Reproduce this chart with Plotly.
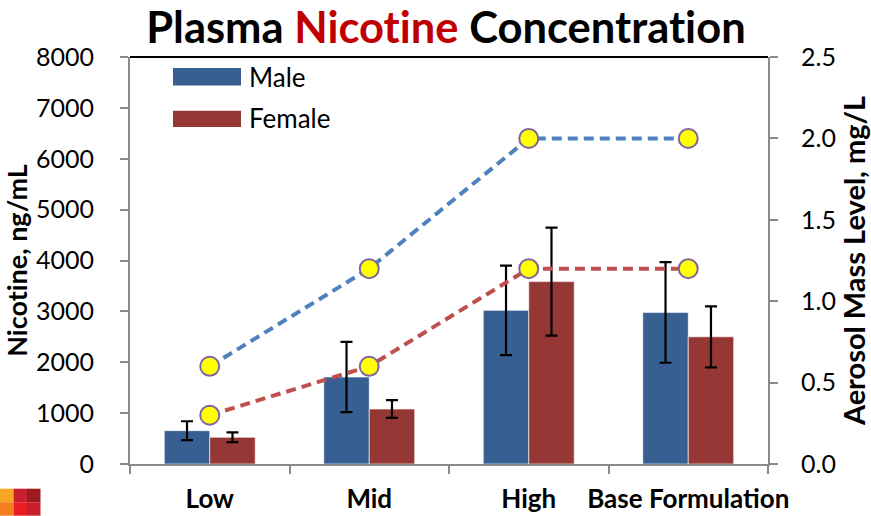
import plotly.graph_objects as go

# Exposure groups
categories = ["Low", "Mid", "High", "Base Formulation"]

# Plasma nicotine (ng/mL), mean and error
male_nicotine = [655, 1710, 3020, 2980]
male_err = [185, 690, 880, 990]
female_nicotine = [525, 1080, 3585, 2500]
female_err = [95, 175, 1060, 600]

# Aerosol mass level (mg/L)
aerosol_male = [0.6, 1.2, 2.0, 2.0]
aerosol_female = [0.3, 0.6, 1.2, 1.2]

left_ticks = [0, 1000, 2000, 3000, 4000, 5000, 6000, 7000, 8000]
right_ticks = [0.0, 0.5, 1.0, 1.5, 2.0, 2.5]

FONT = "Lato"
MALE_COLOR = "#375F91"
FEMALE_COLOR = "#953735"
AXIS_GRAY = "#8A8A8A"
NOLIG = "font-variant-ligatures:none"

fig = go.Figure()

err_style = dict(type="data", visible=True, color="black", thickness=2.2, width=6)

fig.add_trace(go.Bar(
    x=categories, y=male_nicotine, name="Male",
    marker=dict(color=MALE_COLOR, line=dict(color="rgba(255,255,255,0.6)", width=1)),
    error_y=dict(array=male_err, **err_style),
    showlegend=False,
))
fig.add_trace(go.Bar(
    x=categories, y=female_nicotine, name="Female",
    marker=dict(color=FEMALE_COLOR, line=dict(color="rgba(255,255,255,0.6)", width=1)),
    error_y=dict(array=female_err, **err_style),
    showlegend=False,
))

marker_style = dict(size=19, color="#FFFF00", line=dict(color="#8064A2", width=2))
fig.add_trace(go.Scatter(
    x=categories, y=aerosol_male, yaxis="y2", mode="lines+markers",
    line=dict(color="#4F81BD", width=4, dash="10px,6px"),
    marker=marker_style, showlegend=False, name="Aerosol (male)",
))
fig.add_trace(go.Scatter(
    x=categories, y=aerosol_female, yaxis="y2", mode="lines+markers",
    line=dict(color="#C0504D", width=4, dash="10px,6px"),
    marker=marker_style, showlegend=False, name="Aerosol (female)",
))

# Legend drawn as wide swatches inside the plot area
legend_items = [("Male", MALE_COLOR, 0.930, 0.973, 0.952),
                ("Female", FEMALE_COLOR, 0.828, 0.868, 0.849)]
shapes = []
annotations = []
for label, color, y0, y1, ty in legend_items:
    shapes.append(dict(type="rect", xref="paper", yref="paper",
                       x0=0.0674, x1=0.174, y0=y0, y1=y1,
                       fillcolor=color, line=dict(width=0)))
    annotations.append(dict(text=label, xref="paper", yref="paper",
                            x=0.184, y=ty, xanchor="left", yanchor="middle",
                            showarrow=False, font=dict(family=FONT, size=26, color="black")))

# Dark frame line along the top of the plot area
shapes.append(dict(type="line", xref="paper", yref="paper", x0=0, x1=1, y0=1, y1=1,
                   line=dict(color="black", width=2)))

# Corner logo tiles
logo_colors = [["#F5A623", "#C8202F", "#9B1B1F"], ["#F47F20", "#EC1C24", "#C8202F"]]
px_w, px_h = 638.0, 407.0
for r, row in enumerate(logo_colors):
    for c, col in enumerate(row):
        x0 = (13.5 * c - 130) / px_w
        x1 = (13.5 * (c + 1) - 130) / px_w
        ytop = 489 + 13.5 * r
        y0 = (464.3 - (ytop + 13.5)) / px_h
        y1 = (464.3 - ytop) / px_h
        shapes.append(dict(type="rect", xref="paper", yref="paper",
                           x0=x0, x1=x1, y0=y0, y1=y1, fillcolor=col, line=dict(width=0)))

fig.update_layout(
    width=871, height=516,
    margin=dict(l=130, r=103, t=57, b=52, autoexpand=False),
    paper_bgcolor="white", plot_bgcolor="white",
    barmode="group", bargap=0.43, bargroupgap=0,
    font=dict(family=FONT, color="black"),
    title=dict(
        text=(f"<span style='{NOLIG}'><b>Plasma <span style='color:#C00000'>Nicotine</span>"
              " Concentration</b></span>"),
        x=0.512, xanchor="center", y=0.9455, yanchor="middle",
        font=dict(family=FONT, size=43.5, color="black"),
    ),
    xaxis=dict(
        type="category", range=[-0.5, 3.5],
        showline=True, linecolor=AXIS_GRAY, linewidth=2,
        ticks="outside", tickson="boundaries", ticklen=8, tickcolor=AXIS_GRAY, tickwidth=2,
        tickfont=dict(family=FONT, size=26, color="black"),
        tickangle=0, ticklabelstandoff=11,
        tickprefix="<b>", ticksuffix="</b>",
        showgrid=False, zeroline=False, automargin=False,
    ),
    yaxis=dict(
        range=[0, 8000], tickvals=left_ticks,
        showline=True, linecolor=AXIS_GRAY, linewidth=2,
        ticks="outside", ticklen=8, tickcolor=AXIS_GRAY, tickwidth=2,
        tickfont=dict(family=FONT, size=25, color="black"),
        ticklabelstandoff=21,
        showgrid=False, zeroline=False, automargin=False,
        title=dict(text=f"<span style='{NOLIG}'><b>Nicotine, ng/mL</b></span>", standoff=6,
                   font=dict(family=FONT, size=27, color="black")),
    ),
    yaxis2=dict(
        range=[0, 2.5], tickvals=right_ticks, tickformat=".1f",
        overlaying="y", side="right",
        showline=True, linecolor=AXIS_GRAY, linewidth=2,
        ticks="outside", ticklen=8, tickcolor=AXIS_GRAY, tickwidth=2,
        tickfont=dict(family=FONT, size=25, color="black"),
        ticklabelstandoff=18,
        showgrid=False, zeroline=False, automargin=False,
        title=dict(text="<b>Aerosol Mass Level, mg/L</b>", standoff=10,
                   font=dict(family=FONT, size=29, color="black")),
    ),
    shapes=shapes,
    annotations=annotations,
)

fig.write_html("out.html")
